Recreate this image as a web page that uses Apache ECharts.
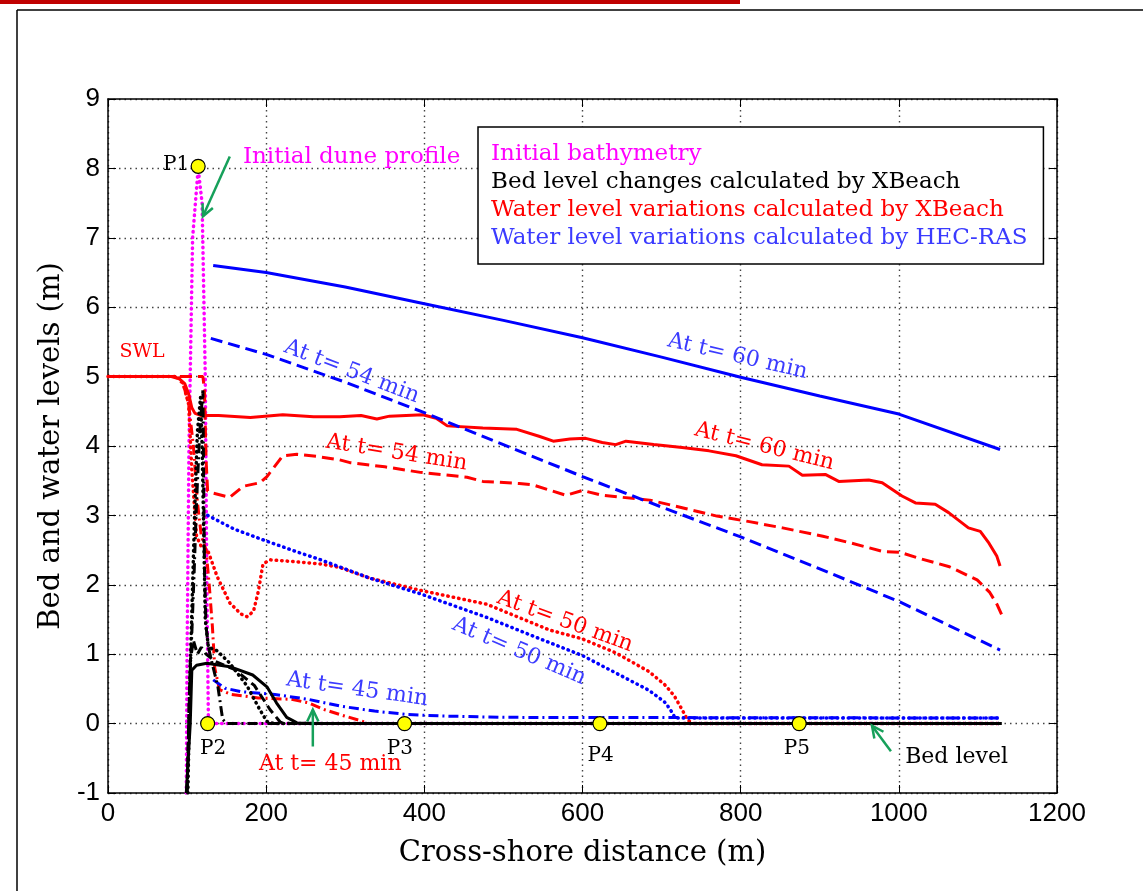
<!DOCTYPE html>
<html>
<head>
<meta charset="utf-8">
<script src="https://cdn.jsdelivr.net/npm/echarts@6/dist/echarts.min.js"></script>
<style>
  html, body { margin: 0; padding: 0; background: #fff; }
  #container { width: 1143px; height: 891px; }
</style>
</head>
<body>
<div id="container"></div>
<script>
// legend / series names
var legendNames = ['Initial bathymetry', 'Bed level changes calculated by XBeach',
    'Water level variations calculated by XBeach', 'Water level variations calculated by HEC-RAS'];

// initial dune profile
var bathyInitial = [[99,-1],[100,1],[102.4,4],[107,7],[114,8],[119,7.5],[123,5],[125,2],[127,0],[200,0],[1130,0]];

// bed level (XBeach)
var bedSolid = [[99,-1],[104,0],[106,0.77],[112,0.84],[125,0.87],[154,0.82],[183,0.7],[201,0.53],[213,0.3],[226,0.09],[239,0.01],[260,0],[1130,0]];
var bedDashed = [[100,-1],[104,0.9],[108,1.2],[113,1.0],[118,1.1],[124,1.0],[135,0.9],[160,0.78],[185,0.55],[205,0.2],[218,0.02],[230,0],[1130,0]];
var bedDotted = [[101,-1],[104,0.8],[107,2.0],[110,3.2],[113,4.2],[117,4.7],[119,4.0],[121,2.8],[123,1.5],[127,1.1],[138,1.05],[154,0.87],[176,0.54],[192,0.2],[201,0.03],[210,0],[1130,0]];
var bedDashDot = [[100,-1],[103,0.5],[106,1.3],[109,2.2],[112,3.2],[116,4.2],[120,4.8],[121,3.5],[122,2.2],[124,1.4],[127,1.1],[131,0.9],[139,0.53],[145,0.06],[150,0],[1130,0]];

// water level (XBeach)
var wlRed60 = [[0,5],[80,5],[90,4.97],[97,4.9],[102,4.75],[106,4.55],[110,4.47],[118,4.44],[140,4.44],[180,4.41],[221,4.45],[260,4.42],[293,4.42],[320,4.44],[340,4.39],[356,4.43],[398,4.45],[415,4.4],[429,4.29],[474,4.26],[517,4.24],[545,4.14],[563,4.07],[584,4.1],[604,4.11],[625,4.05],[642,4.02],[655,4.07],[690,4.02],[726,3.98],[760,3.93],[794,3.86],[827,3.73],[861,3.71],[878,3.58],[907,3.59],[924,3.49],[962,3.51],[979,3.47],[1004,3.28],[1021,3.18],[1046,3.16],[1063,3.04],[1088,2.82],[1103,2.77],[1114,2.6],[1124,2.41],[1128,2.27]];
var wlRed54 = [[0,5],[120,5],[122,4.8],[124,3.8],[126,3.35],[133,3.32],[154,3.26],[171,3.42],[192,3.47],[201,3.56],[221,3.86],[239,3.88],[264,3.85],[293,3.8],[306,3.76],[350,3.7],[395,3.62],[454,3.55],[474,3.49],[520,3.46],[537,3.44],[579,3.29],[600,3.36],[625,3.29],[685,3.22],[730,3.1],[770,2.99],[811,2.91],[853,2.82],[904,2.7],[940,2.6],[980,2.48],[1001,2.47],[1023,2.39],[1064,2.26],[1099,2.07],[1115,1.89],[1124,1.72],[1130,1.57]];
var wlRed50 = [[0,5],[88,5],[95,4.9],[102,4.6],[106,3.65],[112,2.7],[118,2.55],[126,2.5],[138,2.12],[154,1.74],[168,1.58],[176,1.54],[184,1.62],[190,1.9],[196,2.3],[205,2.36],[240,2.33],[269,2.3],[293,2.25],[330,2.1],[395,1.92],[479,1.72],[558,1.35],[600,1.22],[642,1.02],[684,0.75],[705,0.55],[716,0.4],[726,0.2],[733,0.05],[740,0],[1130,0]];
var wlRed45 = [[0,5],[85,5],[95,4.9],[102,4.6],[108,4.0],[113,3.2],[118,2.7],[124,2.5],[128,2.0],[132,1.4],[135,0.8],[141,0.49],[156,0.42],[190,0.37],[232,0.35],[253,0.3],[274,0.2],[299,0.11],[320,0.04],[330,0],[1130,0]];

// water level (HEC-RAS)
var wlBlue60 = [[133,6.6],[200,6.5],[300,6.29],[400,6.05],[500,5.81],[600,5.56],[700,5.28],[800,4.99],[900,4.72],[1000,4.46],[1128,3.95]];
var wlBlue54 = [[130,5.55],[200,5.32],[300,4.92],[400,4.48],[500,4.02],[600,3.56],[700,3.12],[800,2.69],[900,2.23],[1000,1.76],[1128,1.06]];
var wlBlue50 = [[126,3.0],[160,2.8],[198,2.64],[240,2.47],[269,2.36],[330,2.1],[395,1.87],[479,1.53],[540,1.25],[600,0.98],[642,0.73],[684,0.48],[705,0.3],[714,0.15],[717,0.08],[1130,0.08]];
var wlBlue45 = [[133,0.63],[148,0.51],[168,0.46],[211,0.42],[253,0.35],[295,0.25],[337,0.18],[379,0.13],[421,0.11],[500,0.09],[1130,0.08]];

// gauge points
var gauges = [['P1',114,8.03],['P2',126,0],['P3',375,0],['P4',622,0],['P5',874,0]];

// text notes: text, colour, x, y, rotation (deg, clockwise), font size
var notes = [
    ['At t= 60 min', '#3b3bff', 796, 5.29, 13, 22],
    ['At t= 54 min', '#3b3bff', 308, 5.07, 21, 22],
    ['At t= 60 min', '#ff0000', 830, 3.99, 14, 22],
    ['At t= 54 min', '#ff0000', 365, 3.90, 9, 22],
    ['At t= 50 min', '#ff0000', 578, 1.47, 20, 22],
    ['At t= 50 min', '#3b3bff', 520, 1.04, 23, 22],
    ['At t= 45 min', '#3b3bff', 315, 0.49, 8, 22],
    ['At t= 45 min', '#ff0000', 281, -0.59, 0, 22],
    ['SWL', '#ff0000', 43, 5.36, 0, 19],
    ['Initial dune profile', '#ff00ff', 308, 8.17, 0, 23],
    ['P2', '#000', 133, -0.36, 0, 20],
    ['P3', '#000', 369, -0.36, 0, 20],
    ['P4', '#000', 623, -0.46, 0, 20],
    ['P5', '#000', 871, -0.36, 0, 20],
    ['Bed level', '#000', 1073, -0.48, 0, 22]
];
// green arrows: from -> to
var arrows = [
    [[154, 8.17], [120, 7.31]],
    [[259, -0.33], [259, 0.2]],
    [[990, -0.4], [966, -0.03]]
];

var serif = 'DejaVu Serif';
var dashDot = [10, 4, 2, 4];

function line(name, data, color, type, width) {
    return {
        name: name, type: 'line', data: data, showSymbol: false, silent: true,
        lineStyle: { color: color, width: width || 3, type: type, cap: 'butt' },
        itemStyle: { color: color }
    };
}

var myChart = echarts.init(document.getElementById('container'));
var axisCommon = {
    axisLine: { show: true, onZero: false, lineStyle: { color: '#000', width: 1.5 } },
    axisTick: { show: true, inside: true, length: 8, lineStyle: { color: '#000' } }
};
var gridLine = { show: true, lineStyle: { color: '#444', width: 1.4, type: [1.5, 4] } };
var tickFont = { fontFamily: 'Liberation Sans', fontSize: 26, color: '#000', margin: 8,
    formatter: function (v) { return String(v); } };
var option = {
    animation: false,
    backgroundColor: '#fff',
    grid: { left: 108, top: 99, width: 949, height: 694 },
    legend: {
        left: 478, top: 127, orient: 'vertical', selectedMode: false,
        icon: 'rect', itemWidth: 0, itemHeight: 0, itemGap: 4,
        padding: [15, 16, 14, 8],
        backgroundColor: '#fff', borderColor: '#000', borderWidth: 1.5,
        textStyle: { fontFamily: serif, fontSize: 23, lineHeight: 24 },
        data: [
            { name: legendNames[0], textStyle: { color: '#ff00ff' } },
            { name: legendNames[1], textStyle: { color: '#000' } },
            { name: legendNames[2], textStyle: { color: '#ff0000' } },
            { name: legendNames[3], textStyle: { color: '#3b3bff' } }
        ]
    },
    xAxis: [
        Object.assign({
            type: 'value', min: 0, max: 1200, interval: 200,
            name: 'Cross-shore distance (m)', nameLocation: 'middle', nameGap: 46,
            nameTextStyle: { fontFamily: serif, fontSize: 29, color: '#000' },
            axisLabel: tickFont, splitLine: gridLine
        }, axisCommon),
        Object.assign({
            type: 'value', min: 0, max: 1200, interval: 200, position: 'top',
            axisLabel: { show: false }, splitLine: { show: false }
        }, axisCommon)
    ],
    yAxis: [
        Object.assign({
            type: 'value', min: -1, max: 9, interval: 1,
            name: 'Bed and water levels (m)', nameLocation: 'middle', nameGap: 42,
            nameTextStyle: { fontFamily: serif, fontSize: 29, color: '#000' },
            axisLabel: tickFont, splitLine: gridLine
        }, axisCommon),
        Object.assign({
            type: 'value', min: -1, max: 9, interval: 1, position: 'right',
            axisLabel: { show: false }, splitLine: { show: false }
        }, axisCommon)
    ],
    series: [
        line(legendNames[0], bathyInitial, '#ff00ff', [0.5, 5], 3.5),
        line(legendNames[2], wlRed60, '#ff0000', 'solid', 3),
        line(legendNames[2], wlRed54, '#ff0000', [12, 6], 3),
        line(legendNames[2], wlRed50, '#ff0000', [0.5, 5], 3.5),
        line(legendNames[2], wlRed45, '#ff0000', dashDot, 3),
        line(legendNames[3], wlBlue60, '#0000ff', 'solid', 3),
        line(legendNames[3], wlBlue54, '#0000ff', [12, 6], 3),
        line(legendNames[3], wlBlue50, '#0000ff', [0.5, 5], 3.5),
        line(legendNames[3], wlBlue45, '#0000ff', dashDot, 3),
        line(legendNames[1], bedDotted, '#000', [0.5, 5], 3.5),
        line(legendNames[1], bedDashDot, '#000', dashDot, 3),
        line(legendNames[1], bedDashed, '#000', [9, 5], 3),
        line(legendNames[1], bedSolid, '#000', 'solid', 3),
        {
            type: 'scatter', silent: true, z: 5,
            data: gauges.map(function (g) { return [g[1], g[2]]; }),
            symbolSize: 14,
            itemStyle: { color: '#ffff00', borderColor: '#000', borderWidth: 1.2, opacity: 1 }
        }
    ]
};
// round dots for dotted series
option.series.forEach(function (s) {
    if (s.lineStyle && Array.isArray(s.lineStyle.type) && s.lineStyle.type[0] < 1) s.lineStyle.cap = 'round';
});
myChart.setOption(option);

// annotations placed from data coordinates
var graphics = [
    { type: 'rect', left: 0, top: 0, shape: { width: 740, height: 4 }, style: { fill: '#c00000' } },
    { type: 'line', shape: { x1: 17, y1: 10, x2: 1143, y2: 10 }, style: { stroke: '#000', lineWidth: 1.5 } },
    { type: 'line', shape: { x1: 17, y1: 10, x2: 17, y2: 891 }, style: { stroke: '#000', lineWidth: 1.5 } }
];
notes.forEach(function (n) {
    var p = myChart.convertToPixel({ gridIndex: 0 }, [n[2], n[3]]);
    graphics.push({
        type: 'text', x: p[0], y: p[1], rotation: -n[4] * Math.PI / 180, z: 10,
        style: { text: n[0], fill: n[1], font: n[5] + 'px "' + serif + '"', align: 'center', verticalAlign: 'middle' }
    });
});
var p1 = myChart.convertToPixel({ gridIndex: 0 }, [gauges[0][1], gauges[0][2]]);
graphics.push({
    type: 'text', x: p1[0] - 9, y: p1[1] - 2, z: 10,
    style: { text: 'P1', fill: '#000', font: '20px "' + serif + '"', align: 'right', verticalAlign: 'middle' }
});
arrows.forEach(function (a) {
    var s = myChart.convertToPixel({ gridIndex: 0 }, a[0]);
    var e = myChart.convertToPixel({ gridIndex: 0 }, a[1]);
    var ang = Math.atan2(e[1] - s[1], e[0] - s[0]);
    var h = 13, w = 0.45;
    graphics.push({
        type: 'polyline', z: 10,
        shape: { points: [s, e] },
        style: { stroke: '#16a05a', lineWidth: 2.5, fill: null }
    });
    graphics.push({
        type: 'polyline', z: 10,
        shape: { points: [
            [e[0] - h * Math.cos(ang - w), e[1] - h * Math.sin(ang - w)], e,
            [e[0] - h * Math.cos(ang + w), e[1] - h * Math.sin(ang + w)]
        ] },
        style: { stroke: '#16a05a', lineWidth: 2.5, fill: null }
    });
});
myChart.setOption({ graphic: graphics });
</script>
</body>
</html>
